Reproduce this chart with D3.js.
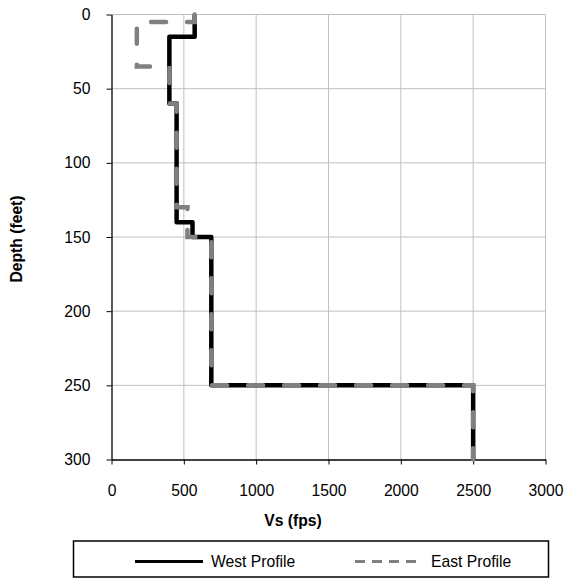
<!DOCTYPE html>
<html lang="en">
<head>
<meta charset="utf-8">
<script src="https://d3js.org/d3.v7.min.js"></script>
<style>
  body { margin: 0; background: #fff; }
  text { font-family: Arial, "Liberation Sans", sans-serif; }
</style>
</head>
<body>
<script>

// layer boundaries (feet) and shear wave velocity (fps) per layer
const westDepth = [0, 15, 60, 140, 150, 250, 300],
      westVs = [575, 400, 450, 560, 690, 2500];
const eastDepth = [0, 5, 35, 60, 130, 150, 250, 300],
      eastVs = [575, 175, 400, 450, 525, 690, 2500];

const xTicks = [0, 500, 1000, 1500, 2000, 2500, 3000],
      yTicks = [0, 50, 100, 150, 200, 250, 300];

const width = 572, height = 579,
      fs = 15.7;

const svg = d3.select('body')
  .append('svg')
  .attr('width', width)
  .attr('height', height);

const x = d3.scaleLinear().domain([0, 3000]).range([111.5, 545.5]),
      y = d3.scaleLinear().domain([0, 300]).range([14.5, 459.5]);

// grid
svg.append('g')
  .selectAll('line')
  .data(xTicks.slice(1))
  .enter().append('line')
  .attr('x1', d => x(d)).attr('x2', d => x(d))
  .attr('y1', y(0)).attr('y2', y(300))
  .attr('stroke', '#c0c0c0').attr('stroke-width', 1);

svg.append('g')
  .selectAll('line')
  .data(yTicks.slice(0, -1))
  .enter().append('line')
  .attr('x1', x(0)).attr('x2', x(3000))
  .attr('y1', d => y(d)).attr('y2', d => y(d))
  .attr('stroke', '#c0c0c0').attr('stroke-width', 1);

// axes
const xAxis = svg.append('g')
  .attr('transform', 'translate(0,' + y(300) + ')')
  .call(d3.axisBottom(x).tickValues(xTicks).tickFormat(d3.format('d'))
    .tickSize(5).tickPadding(20).tickSizeOuter(0));
const yAxis = svg.append('g')
  .attr('transform', 'translate(' + x(0) + ',0)')
  .call(d3.axisLeft(y).tickValues(yTicks).tickFormat(d3.format('d'))
    .tickSize(5).tickPadding(16).tickSizeOuter(0));

[xAxis, yAxis].forEach(a => {
  a.select('.domain').attr('stroke', '#000').attr('stroke-width', 1.3);
  a.selectAll('.tick line').attr('stroke', '#000');
  a.selectAll('.tick text')
    .attr('font-family', 'Arial, "Liberation Sans", sans-serif')
    .attr('font-size', fs).attr('fill', '#000');
});

// axis titles
svg.append('text')
  .attr('x', 293).attr('y', 526)
  .attr('text-anchor', 'middle')
  .attr('font-size', fs).attr('font-weight', 'bold')
  .text('Vs (fps)');

svg.append('text')
  .attr('transform', 'translate(22,239) rotate(-90)')
  .attr('text-anchor', 'middle')
  .attr('font-size', fs).attr('font-weight', 'bold')
  .text('Depth (feet)');

// step profile points
function steps(depth, vs) {
  const pts = [];
  vs.forEach((v, i) => {
    pts.push([v, depth[i]]);
    pts.push([v, depth[i + 1]]);
  });
  return pts;
}

const line = d3.line()
  .x(d => x(d[0]))
  .y(d => y(d[1]));

svg.append('path')
  .attr('d', line(steps(westDepth, westVs)))
  .attr('fill', 'none')
  .attr('stroke', '#000')
  .attr('stroke-width', 4.5)
  .attr('stroke-linejoin', 'round');

svg.append('path')
  .attr('d', line(steps(eastDepth, eastVs)))
  .attr('fill', 'none')
  .attr('stroke', '#808080')
  .attr('stroke-width', 4.5)
  .attr('stroke-linecap', 'round')
  .attr('stroke-dasharray', '15,21');

// legend
const legend = svg.append('g');
legend.append('rect')
  .attr('x', 73.5).attr('y', 541)
  .attr('width', 475).attr('height', 36)
  .attr('fill', '#fff').attr('stroke', '#000').attr('stroke-width', 1.5);

const legendItems = [
  {name: 'West Profile', color: '#000', dash: null, x0: 135},
  {name: 'East Profile', color: '#808080', dash: '10,7', x0: 355}
];

legendItems.forEach(d => {
  legend.append('line')
    .attr('x1', d.x0).attr('x2', d.x0 + 68)
    .attr('y1', 561.5).attr('y2', 561.5)
    .attr('stroke', d.color).attr('stroke-width', 3)
    .attr('stroke-dasharray', d.dash);
  legend.append('text')
    .attr('x', d.x0 + 76).attr('y', 567)
    .attr('font-size', fs)
    .text(d.name);
});

</script>
</body>
</html>
